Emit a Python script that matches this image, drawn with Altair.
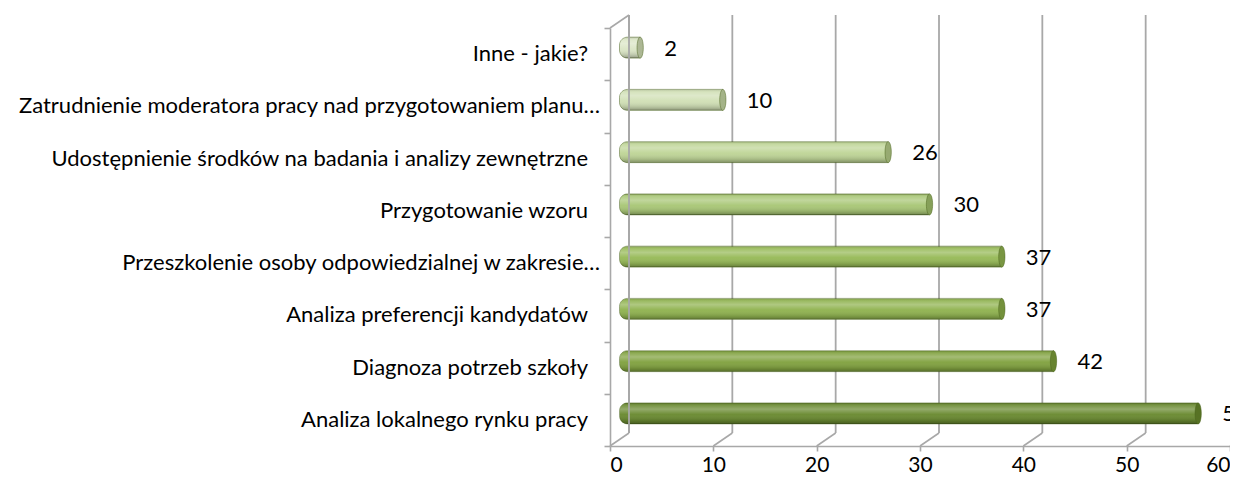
import altair as alt
import pandas as pd

categories = [
    "Inne - jakie?",
    "Zatrudnienie moderatora pracy nad przygotowaniem planu…",
    "Udostępnienie środków na badania i analizy zewnętrzne",
    "Przygotowanie wzoru",
    "Przeszkolenie osoby odpowiedzialnej w zakresie…",
    "Analiza preferencji kandydatów",
    "Diagnoza potrzeb szkoły",
    "Analiza lokalnego rynku pracy",
]
values = [2, 10, 26, 30, 37, 37, 42, 56]
colors = ["#dbe6c6", "#d1e0b6", "#bfd597", "#a9c777", "#97ba58", "#90b350", "#81a240", "#6a8a31"]
x_ticks = [0, 10, 20, 30, 40, 50, 60]

df = pd.DataFrame({"cat": categories, "val": values})
grid = pd.DataFrame({"t": x_ticks})

FONT = "Lato"
FS = 22
W, H = 620, 418
DX, DY = 9.5, -6.5     # middle depth plane (bars)
BX, BY = 19, -13       # back wall plane
GRID = "#a8a8a8"

xs = alt.Scale(domain=[0, 60], nice=False, zero=True)
ys = alt.Scale(domain=categories, paddingInner=0, paddingOuter=0)
xb = alt.Scale(domain=[0, 60], nice=False, zero=True, range=[DX, W + DX])
yb = alt.Scale(domain=categories, paddingInner=0, paddingOuter=0, range=[DY, H + DY])
cs = alt.Scale(domain=categories, range=colors)

xaxis = alt.Axis(title=None, values=x_ticks, grid=False, domainColor=GRID, domainWidth=1.6,
                 tickColor=GRID, tickWidth=1.6, tickSize=5, labelPadding=3,
                 labelFont=FONT, labelFontSize=21, labelColor="#000000")
yaxis = alt.Axis(title=None, grid=False, domainColor=GRID, domainWidth=1.6,
                 tickColor=GRID, tickWidth=1.6, tickSize=6, tickBand="extent",
                 labels=False)

# front plane frame (carries the axes)
frame = alt.Chart(df).mark_point(opacity=0).encode(
    x=alt.X("val:Q", scale=xs, axis=xaxis),
    y=alt.Y("cat:N", scale=ys, sort=categories, axis=yaxis))

YF = alt.Y("cat:N", scale=ys, sort=categories, axis=None)
is_cut = "indexof(datum.cat, '…') >= 0"
cat_labels_cut = alt.Chart(df).transform_filter(is_cut).mark_text(
    align="right", baseline="middle", font=FONT, fontSize=FS, color="#000000").encode(
    x=alt.value(-10), y=YF, text="cat:N")
cat_labels = alt.Chart(df).transform_filter("!(" + is_cut + ")").mark_text(
    align="right", baseline="middle", font=FONT, fontSize=FS, color="#000000").encode(
    x=alt.value(-22), y=YF, text="cat:N")

XF = alt.X("t:Q", scale=xs, axis=None)

back_lines = alt.Chart(grid).mark_rule(color=GRID, strokeWidth=1.8, xOffset=BX).encode(
    x=XF, y=alt.value(BY), y2=alt.value(H + BY))

floor_lines = alt.Chart(grid).mark_rule(color=GRID, strokeWidth=1.6, x2Offset=BX).encode(
    x=XF, x2=alt.X2("t:Q"), y=alt.value(H), y2=alt.value(H + BY))

top_diag = alt.Chart(grid).transform_filter("datum.t == 0").mark_rule(
    color=GRID, strokeWidth=1.6, x2Offset=BX).encode(
    x=XF, x2=alt.X2("t:Q"), y=alt.value(0), y2=alt.value(BY))

zero_back = alt.Chart(grid).transform_filter("datum.t == 0").mark_rule(
    color=GRID, strokeWidth=1.8, xOffset=BX).encode(
    x=XF, y=alt.value(BY), y2=alt.value(H + BY))

XB = alt.X("val:Q", scale=xb, axis=None)
YB = alt.Y("cat:N", scale=yb, sort=categories, axis=None)

base = alt.Chart(df)
BAR = 21

bars = base.mark_bar(size=BAR, cornerRadiusTopLeft=8, cornerRadiusBottomLeft=8,
                     stroke="#4a641c", strokeWidth=0.8, strokeOpacity=0.6).encode(
    x=XB, y=YB, color=alt.Color("cat:N", scale=cs, legend=None))

shade = base.mark_bar(size=BAR, cornerRadiusTopLeft=8, cornerRadiusBottomLeft=8,
                      fill=alt.Gradient(gradient="linear", x1=0, x2=0, y1=0, y2=1, stops=[
                          alt.GradientStop(offset=0, color="rgba(0,0,0,0.12)"),
                          alt.GradientStop(offset=0.12, color="rgba(255,255,255,0.10)"),
                          alt.GradientStop(offset=0.3, color="rgba(255,255,255,0.28)"),
                          alt.GradientStop(offset=0.55, color="rgba(255,255,255,0.03)"),
                          alt.GradientStop(offset=0.85, color="rgba(0,0,0,0.14)"),
                          alt.GradientStop(offset=1, color="rgba(0,0,0,0.32)"),
                      ])).encode(x=XB, y=YB)

cap_shape = "M0,-1 A0.3,1 0 1,1 0,1 A0.3,1 0 1,1 0,-1 Z"
caps = base.mark_point(shape=cap_shape, size=BAR * BAR, filled=True, opacity=1).encode(
    x=XB, y=YB, color=alt.Color("cat:N", scale=cs, legend=None))
caps_dark = base.mark_point(shape=cap_shape, size=BAR * BAR, filled=True, opacity=1,
                            fill="rgba(30,45,0,0.25)", stroke="#4a641c", strokeWidth=0.8,
                            strokeOpacity=0.6).encode(x=XB, y=YB)

labels = base.mark_text(align="left", baseline="middle", xOffset=24, yOffset=1,
                        font=FONT, fontSize=FS, color="#000000").encode(
    x=XB, y=YB, text=alt.Text("val:Q"))

chart = alt.layer(frame, cat_labels_cut, cat_labels, back_lines, floor_lines, top_diag,
                  bars, shade, caps, caps_dark, zero_back, labels).resolve_scale(
    x="independent", y="independent").properties(
    width=W, height=H,
    padding={"left": 602, "top": 20, "right": 0, "bottom": 28},
    autosize=alt.AutoSizeParams(type="none"),
    background="#ffffff",
).configure_view(stroke=None)

chart.save("out.html", embed_options={"renderer": "svg", "actions": False})
